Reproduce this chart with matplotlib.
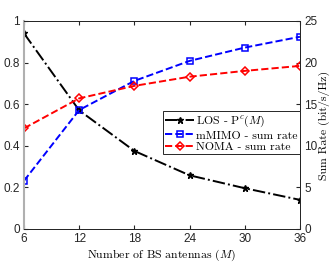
import numpy as np
import matplotlib.pyplot as plt

plt.rcParams['mathtext.fontset'] = 'cm'
plt.rcParams['font.family'] = ['Liberation Sans', 'DejaVu Sans']

# data
antennas = [6, 12, 18, 24, 30, 36]
los_pc = [0.94, 0.57, 0.375, 0.258, 0.196, 0.14]
mmimo_rate = [5.8, 14.3, 17.8, 20.2, 21.8, 23.1]
noma_rate = [12.1, 15.7, 17.2, 18.3, 19.0, 19.6]

fig = plt.figure(figsize=(3.34, 2.62), dpi=100)
ax = fig.add_axes([0.072, 0.126, 0.826, 0.794])
ax2 = ax.twinx()

l1, = ax.plot(antennas, los_pc, color='k', linestyle='-.', linewidth=1.4,
              marker='*', markersize=4.5, label=r'LOS - P$^c(M)$')
l2, = ax2.plot(antennas, mmimo_rate, color='b', linestyle='--', linewidth=1.4,
               marker='s', markersize=4.5, markerfacecolor='none', markeredgewidth=1.1,
               label='mMIMO - sum rate')
l3, = ax2.plot(antennas, noma_rate, color='r', linestyle='--', linewidth=1.4,
               marker='D', markersize=4.5, markerfacecolor='none', markeredgewidth=1.1,
               label='NOMA - sum rate')

ax.set_xlim(6, 36)
ax.set_ylim(0, 1)
ax2.set_ylim(0, 25)
ax.set_xticks(antennas)
ax.set_yticks([0, 0.2, 0.4, 0.6, 0.8, 1])
ax.set_yticklabels(['0', '0.2', '0.4', '0.6', '0.8', '1'])
ax2.set_yticks([0, 5, 10, 15, 20, 25])

ax.tick_params(direction='in', labelsize=8.5, length=3, top=True, colors='#262626', pad=3)
ax2.tick_params(direction='in', labelsize=8.5, length=3, colors='#262626', pad=3)

for a in (ax, ax2):
    for s in a.spines.values():
        s.set_color('#262626')
        s.set_linewidth(0.7)
ax2.spines['left'].set_color('#b0b0b0')
ax2.spines['left'].set_linewidth(1.5)

ax.set_xlabel(r'Number of BS antennas ($M$)', family='cmr10', fontsize=8.5, labelpad=2)
ax2.set_ylabel('Sum Rate (bit/s/Hz)', family='cmr10', fontsize=8.5, labelpad=1)

leg = ax2.legend(handles=[l1, l2, l3], loc='upper right', bbox_to_anchor=(1.0, 0.565),
                 prop={'family': 'cmr10', 'size': 8.5}, frameon=True, fancybox=False,
                 framealpha=1, edgecolor='#262626', borderpad=0.2, labelspacing=0.1,
                 handlelength=2.4, handletextpad=0.2, borderaxespad=0)
leg.get_frame().set_linewidth(0.7)

fig.savefig('out.png', dpi=100)
